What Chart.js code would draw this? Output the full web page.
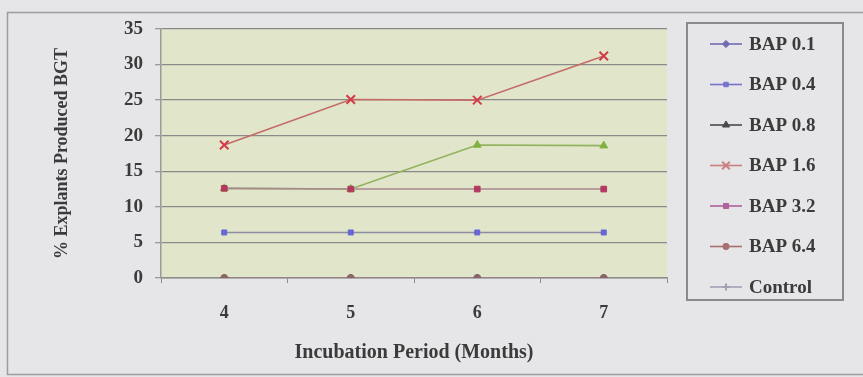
<!DOCTYPE html>
<html>
<head>
<meta charset="utf-8">
<script src="https://cdn.jsdelivr.net/npm/chart.js@4/dist/chart.umd.min.js"></script>
<style>
  html, body { margin: 0; padding: 0; background: #e6e6e8; }
  #wrap { width: 863px; height: 377px; position: relative; }
</style>
</head>
<body>
<div id="wrap"><canvas id="bgtChart"></canvas></div>
<script>
// Incubation months on the x axis, % explants producing BGT per BAP level.
var MONTHS = ['4', '5', '6', '7'];
var SERIES = ['BAP 0.1', 'BAP 0.4', 'BAP 0.8', 'BAP 1.6', 'BAP 3.2', 'BAP 6.4', 'Control'];
var BAP_01 = [0, 0, 0, 0];
var BAP_04 = [6.4, 6.4, 6.4, 6.4];
var BAP_08 = [12.6, 12.5, 18.7, 18.6];
var BAP_16 = [18.7, 25.1, 25.0, 31.2];
var BAP_32 = [12.6, 12.5, 12.5, 12.5];
var BAP_64 = [0, 0, 0, 0];
var CONTROL = [0, 0, 0, 0];
var Y_TICKS = [0, 5, 10, 15, 20, 25, 30, 35];

var VALUES = [BAP_01, BAP_04, BAP_08, BAP_16, BAP_32, BAP_64, CONTROL];

// line colour, marker fill, marker style, marker size, draw order, legend colour
var STYLE = [
  { line: '#8a88b4', fill: '#5d5ca4', point: 'rectRot', r: 4,   order: 5, key: '#6f6db0' },
  { line: '#8c8ca4', fill: '#6666d6', point: 'rect',    r: 3.5, order: 4, key: '#7474cc' },
  { line: '#93b25e', fill: '#7fb240', point: 'triangle', r: 4.5, order: 3, key: '#4a4a4a' },
  { line: '#c56c68', fill: '#d23a48', point: 'crossRot', r: 6,  order: 2, key: '#c98080' },
  { line: '#a88890', fill: '#b23a60', point: 'rect',    r: 4,   order: 1, key: '#b0609a' },
  { line: '#9a8080', fill: '#8a6666', point: 'circle',  r: 3.5, order: 0, key: '#a87070' },
  { line: '#9c9cae', fill: '#9c9cae', point: 'cross',   r: 4,   order: 6, key: '#a0a0b0' }
];

var TEXT = '#3b3b3b';
var SERIF = "'Liberation Serif', 'DejaVu Serif', serif";

var datasets = SERIES.map(function (name, i) {
  var s = STYLE[i];
  var cross = s.point === 'crossRot' || s.point === 'cross';
  return {
    label: name,
    data: VALUES[i],
    order: s.order,
    borderColor: s.line,
    borderWidth: 1.6,
    pointStyle: s.point,
    pointRadius: s.r,
    pointBackgroundColor: s.fill,
    pointBorderColor: s.fill,
    pointBorderWidth: cross ? 2 : 1,
    tension: 0,
    fill: false
  };
});

// Page, outer frame and the pale plot area.
var backdrop = {
  id: 'backdrop',
  beforeDraw: function (chart) {
    var ctx = chart.ctx, a = chart.chartArea;
    ctx.save();
    ctx.fillStyle = '#e6e6e8';
    ctx.fillRect(0, 0, chart.width, chart.height);
    ctx.strokeStyle = '#9c9c9e';
    ctx.lineWidth = 1.5;
    ctx.strokeRect(7.5, 12.5, chart.width + 20, chart.height - 15);
    ctx.fillStyle = '#e1e5c9';
    ctx.fillRect(a.left, a.top, a.right - a.left, a.bottom - a.top);
    ctx.restore();
  }
};

// Excel-like boxed legend: short line with marker, then the series name.
var LEGEND = { left: 687, top: 23, width: 156, height: 277, x: 710, len: 32, textX: 749, y: 44, step: 40.5 };
var boxLegend = {
  id: 'boxLegend',
  afterDraw: function (chart) {
    var ctx = chart.ctx, L = LEGEND;
    ctx.save();
    ctx.strokeStyle = '#8a8a8c';
    ctx.lineWidth = 2;
    ctx.strokeRect(L.left, L.top, L.width, L.height);
    ctx.font = 'bold 19px ' + SERIF;
    ctx.textBaseline = 'middle';
    ctx.textAlign = 'left';
    chart.data.datasets.forEach(function (ds, i) {
      var s = STYLE[i];
      var y = L.y + i * L.step;
      ctx.strokeStyle = s.key;
      ctx.lineWidth = 1.6;
      ctx.beginPath();
      ctx.moveTo(L.x, y);
      ctx.lineTo(L.x + L.len, y);
      ctx.stroke();
      ctx.fillStyle = s.key;
      ctx.strokeStyle = s.key;
      ctx.lineWidth = (s.point === 'crossRot' || s.point === 'cross') ? 2 : 1;
      Chart.helpers.drawPoint(ctx, { pointStyle: s.point, radius: s.r * 0.9, rotation: 0, borderWidth: ctx.lineWidth }, L.x + L.len / 2, y);
      ctx.fillStyle = TEXT;
      ctx.fillText(ds.label, L.textX, y + 1);
    });
    ctx.restore();
  }
};

new Chart(document.getElementById('bgtChart'), {
  type: 'line',
  data: { labels: MONTHS, datasets: datasets },
  options: {
    responsive: true,
    maintainAspectRatio: false,
    animation: false,
    layout: { padding: { left: 44, right: 196, top: 29, bottom: 0 } },
    plugins: { legend: { display: false }, tooltip: { enabled: false } },
    scales: {
      x: {
        offset: true,
        grid: { drawOnChartArea: false, drawTicks: true, tickLength: 5, color: '#8c8c8c', offset: true },
        border: { display: true, color: '#8c8c8c', width: 1.5 },
        ticks: { color: TEXT, padding: 20, font: { family: SERIF, size: 18, weight: 'bold' } },
        title: {
          display: true,
          text: 'Incubation Period (Months)',
          color: TEXT,
          font: { family: SERIF, size: 20, weight: 'bold' },
          padding: { top: 0, bottom: 12 }
        },
        afterFit: function (scale) { scale.height = 99; }
      },
      y: {
        min: 0,
        max: 35,
        afterBuildTicks: function (scale) {
          scale.ticks = Y_TICKS.map(function (v) { return { value: v }; });
        },
        grid: { color: '#8a8a8a', lineWidth: 1.3, drawTicks: true, tickLength: 6, tickColor: '#9a9a9a' },
        border: { display: true, color: '#9a9a9a', width: 1.5 },
        ticks: { color: TEXT, padding: 12, font: { family: SERIF, size: 19, weight: 'bold' } },
        title: {
          display: true,
          text: '% Explants Produced BGT',
          color: TEXT,
          font: { family: SERIF, size: 18, weight: 'bold' },
          padding: { top: 8, bottom: 0 }
        },
        afterFit: function (scale) { scale.width = 117; }
      }
    }
  },
  plugins: [backdrop, boxLegend]
});
</script>
</body>
</html>
